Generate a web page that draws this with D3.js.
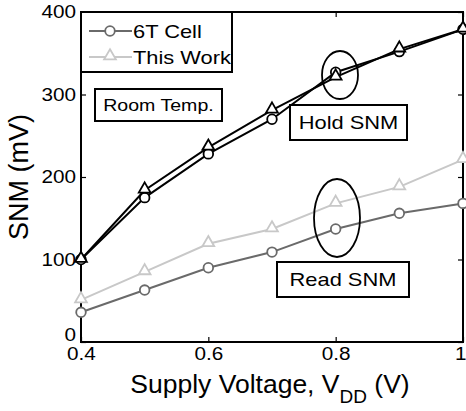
<!DOCTYPE html>
<html>
<head>
<meta charset="utf-8">
<script src="https://cdn.jsdelivr.net/npm/d3@7"></script>
<style>
  body { margin: 0; background: #fff; }
  svg { font-family: "Liberation Sans", Arial, sans-serif; }
</style>
</head>
<body>
<svg id="chart" width="466" height="411"></svg>
<script>
// data
const vdd = [0.4, 0.5, 0.6, 0.7, 0.8, 0.9, 1.0];
const hold6T = [100, 175, 228, 270, 327, 352, 379];
const holdThisWork = [100, 184, 236, 281, 321, 355, 379];
const read6T = [36, 63, 90, 109, 137, 156, 168];
const readThisWork = [51, 85, 119, 137, 168, 188, 221];
const xTicks = [0.4, 0.6, 0.8, 1];
const yTicks = [0, 100, 200, 300, 400];

const margin = {top: 12, right: 3, bottom: 69, left: 81};
const width = 466 - margin.left - margin.right;
const height = 411 - margin.top - margin.bottom;
const STRETCH = 1.15; // the original text is a bit wide

// widen a text horizontally, keeping its anchor
function stretch(sel, k) {
  sel.each(function () {
    const len = this.getComputedTextLength();
    this.setAttribute('textLength', len * k);
    this.setAttribute('lengthAdjust', 'spacingAndGlyphs');
  });
}

const svg = d3.select('#chart')
  .append('g')
  .attr('transform', 'translate(' + margin.left + ',' + margin.top + ')');

const x = d3.scaleLinear().domain([0.4, 1]).range([0, width]);
const y = d3.scaleLinear().domain([0, 400]).range([height, 0]);

// axes with inward ticks
const axisStyle = g => {
  g.select('.domain').remove();
  g.selectAll('line').attr('stroke', '#000').attr('stroke-width', 1.2);
  g.selectAll('text').attr('fill', '#000').style('font-size', '18px');
};

const xAxisG = svg.append('g')
  .attr('transform', 'translate(0,' + height + ')')
  .call(d3.axisBottom(x).tickValues(xTicks).tickSize(-5)
    .tickFormat(d => d === 1 ? '1' : d3.format('.1f')(d)))
  .call(axisStyle);
xAxisG.selectAll('text').attr('y', 18).attr('dy', 0)
  .attr('text-anchor', d => d === 1 ? 'end' : 'middle')
  .attr('x', d => d === 1 ? 3 : 0)
  .call(stretch, STRETCH);

svg.append('g')
  .call(d3.axisTop(x).tickValues(xTicks).tickSize(-5).tickFormat(''))
  .call(axisStyle);

const yAxisG = svg.append('g')
  .call(d3.axisLeft(y).tickValues(yTicks).tickSize(-5).tickPadding(5))
  .call(axisStyle);
yAxisG.selectAll('text')
  .attr('dy', d => d === 0 ? '-0.1em' : '0.32em')
  .call(stretch, STRETCH);

svg.append('g')
  .attr('transform', 'translate(' + width + ',0)')
  .call(d3.axisRight(y).tickValues(yTicks).tickSize(-5).tickFormat(''))
  .call(axisStyle);

svg.append('rect')
  .attr('width', width).attr('height', height)
  .attr('fill', 'none').attr('stroke', '#000').attr('stroke-width', 2);

// series
const series = [
  {vals: hold6T, color: '#000', shape: 'circle'},
  {vals: holdThisWork, color: '#000', shape: 'triangle'},
  {vals: readThisWork, color: '#c8c8c8', shape: 'triangle'},
  {vals: read6T, color: '#6a6a6a', shape: 'circle'}
];

const line = d3.line().x((d, i) => x(vdd[i])).y(d => y(d));
const tri = d3.symbol().type(d3.symbolTriangle).size(60);

function marker(g, shape, color, cx, cy) {
  if (shape === 'circle') {
    g.append('circle').attr('cx', cx).attr('cy', cy).attr('r', 4.8)
      .attr('fill', '#fff').attr('stroke', color).attr('stroke-width', 1.8);
  } else {
    g.append('path').attr('d', tri())
      .attr('transform', 'translate(' + cx + ',' + (cy - 1) + ')')
      .attr('fill', '#fff').attr('stroke', color).attr('stroke-width', 1.8);
  }
}

series.forEach(s => {
  const g = svg.append('g');
  g.append('path').datum(s.vals).attr('d', line)
    .attr('fill', 'none').attr('stroke', s.color).attr('stroke-width', 2);
  s.vals.forEach((v, i) => marker(g, s.shape, s.color, x(vdd[i]), y(v)));
});

// legend
const legend = svg.append('g');
legend.append('rect').attr('x', 0).attr('y', 0).attr('width', 151).attr('height', 60)
  .attr('fill', '#fff').attr('stroke', '#000').attr('stroke-width', 2);
[{label: '6T Cell', color: '#6a6a6a', shape: 'circle', yy: 19},
 {label: 'This Work', color: '#c8c8c8', shape: 'triangle', yy: 45}].forEach(e => {
  legend.append('line').attr('x1', 8).attr('x2', 51).attr('y1', e.yy).attr('y2', e.yy)
    .attr('stroke', e.color).attr('stroke-width', 2);
  marker(legend, e.shape, e.color, 29, e.yy);
  legend.append('text').attr('x', 52).attr('y', e.yy + 7)
    .style('font-size', '19px').text(e.label)
    .call(stretch, STRETCH);
});

// annotations
function labelBox(bx, by, bw, bh, txt, fs) {
  svg.append('rect').attr('x', bx - margin.left).attr('y', by - margin.top)
    .attr('width', bw).attr('height', bh)
    .attr('fill', '#fff').attr('stroke', '#000').attr('stroke-width', 2);
  svg.append('text').attr('x', bx - margin.left + bw / 2).attr('y', by - margin.top + bh / 2)
    .attr('text-anchor', 'middle').attr('dy', '0.36em')
    .style('font-size', fs + 'px').text(txt)
    .call(stretch, STRETCH);
}
labelBox(95, 89, 127, 32, 'Room Temp.', 17);
labelBox(290, 105, 117, 35, 'Hold SNM', 19);
labelBox(277, 262, 132, 35, 'Read SNM', 19);

svg.append('ellipse').attr('cx', 340 - margin.left).attr('cy', 75 - margin.top)
  .attr('rx', 18).attr('ry', 24).attr('fill', 'none').attr('stroke', '#000').attr('stroke-width', 1.8);
svg.append('ellipse').attr('cx', 337 - margin.left).attr('cy', 218 - margin.top)
  .attr('rx', 23).attr('ry', 39).attr('fill', 'none').attr('stroke', '#000').attr('stroke-width', 1.8);

// axis titles
svg.append('text')
  .attr('transform', 'translate(' + (-53) + ',' + (height / 2) + ') rotate(-90)')
  .attr('text-anchor', 'middle').style('font-size', '27px')
  .text('SNM (mV)');

const xt = svg.append('text')
  .attr('x', 270 - margin.left).attr('y', 393 - margin.top)
  .attr('text-anchor', 'middle').style('font-size', '26.5px');
xt.append('tspan').text('Supply Voltage, V');
xt.append('tspan').attr('dy', 10).style('font-size', '19px').text('DD');
xt.append('tspan').attr('dy', -10).text(' (V)');
</script>
</body>
</html>
